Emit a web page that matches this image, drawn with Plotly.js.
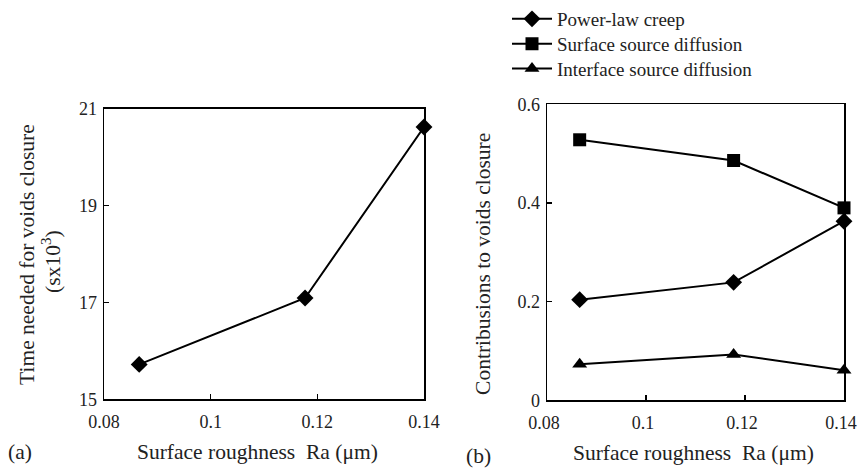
<!DOCTYPE html>
<html><head><meta charset="utf-8">
<script src="https://cdn.plot.ly/plotly-3.0.1.min.js"></script>
<style>html,body{margin:0;padding:0;background:#fff}#chart{width:858px;height:468px}</style>
</head><body><div id="chart"></div>
<script>
const roughness = [0.0866, 0.1177, 0.14];
const closureTime = [15.72, 17.09, 20.62];
const powerLawCreep = [0.204, 0.239, 0.363];
const surfaceSourceDiffusion = [0.528, 0.486, 0.390];
const interfaceSourceDiffusion = [0.073, 0.093, 0.061];
const seriesNames = ["Power-law creep", "Surface source diffusion", "Interface source diffusion"];
const xTicks = [0.08, 0.1, 0.12, 0.14];
const xTickText = ["0.08", "0.1", "0.12", "0.14"];
const yTicksA = [15, 17, 19, 21];
const yTicksB = [0, 0.2, 0.4, 0.6];
const yTickTextB = ["0", "0.2", "0.4", "0.6"];

const FONT = "Liberation Serif";
const W = 858, H = 468;
const line = {color: "#000", width: 2};

const traces = [
  {x: roughness, y: closureTime, xaxis: "x", yaxis: "y", mode: "lines+markers", showlegend: false,
   line: line, marker: {symbol: "diamond", size: 13, color: "#000"}, cliponaxis: false},
  {x: roughness, y: powerLawCreep, xaxis: "x2", yaxis: "y2", name: seriesNames[0], legend: "legend", mode: "lines+markers",
   line: line, marker: {symbol: "diamond", size: 13, color: "#000"}, cliponaxis: false},
  {x: roughness, y: surfaceSourceDiffusion, xaxis: "x2", yaxis: "y2", name: seriesNames[1], legend: "legend2", mode: "lines+markers",
   line: line, marker: {symbol: "square", size: 13, color: "#000"}, cliponaxis: false},
  {x: roughness, y: interfaceSourceDiffusion, xaxis: "x2", yaxis: "y2", name: seriesNames[2], legend: "legend3", mode: "lines+markers",
   line: line, marker: {symbol: "triangle-up", size: 13, color: "#000"}, cliponaxis: false}
];

const axBase = {showgrid: false, zeroline: false, showline: true, linecolor: "#000", linewidth: 1.5,
  mirror: true, ticks: "inside", ticklen: 5, tickwidth: 1.5, tickcolor: "#000",
  ticklabeloverflow: "allow",
  tickfont: {family: FONT, size: 18, color: "#222"}};
const xBase = Object.assign({}, axBase, {ticklabelstandoff: 6});
const yBase = Object.assign({}, axBase, {ticklabelstandoff: 2});

function mkLegend(yCenter) {
  return {x: 507/W, y: 1 - yCenter/H, xanchor: "left", yanchor: "middle", bgcolor: "rgba(0,0,0,0)",
    font: {family: FONT, size: 19, color: "#222"}, itemwidth: 40};
}

const layout = {
  width: W, height: H, margin: {l: 0, r: 0, t: 0, b: 0},
  paper_bgcolor: "#fff", plot_bgcolor: "#fff",
  font: {family: FONT, color: "#000"},
  xaxis: Object.assign({}, xBase, {domain: [104/W, 424/W], range: [0.08, 0.14], tickvals: xTicks, ticktext: xTickText, anchor: "y"}),
  yaxis: Object.assign({}, yBase, {domain: [1-399/H, 1-107/H], range: [15, 21], tickvals: yTicksA, anchor: "x"}),
  xaxis2: Object.assign({}, xBase, {domain: [547/W, 844/W], range: [0.08, 0.14], tickvals: xTicks, ticktext: xTickText, anchor: "y2", ticklabelshift: -3}),
  yaxis2: Object.assign({}, yBase, {domain: [1-400/H, 1-102.7/H], range: [0, 0.6], tickvals: yTicksB, ticktext: yTickTextB, anchor: "x2"}),
  legend: mkLegend(17),
  legend2: mkLegend(42),
  legend3: mkLegend(67),
  annotations: [
    {text: "Time needed for voids closure", textangle: -90, x: 27/W, y: 1-254/H},
    {text: "(sx10<sup>3</sup>)", textangle: -90, x: 52/W, y: 1-261/H},
    {text: "Contribusions to voids closure", textangle: -90, x: 483/W, y: 1-263/H},
    {text: "Surface roughness  Ra (\u03bcm)", x: 257/W, y: 1-452/H},
    {text: "Surface roughness  Ra (\u03bcm)", x: 693/W, y: 1-453/H},
    {text: "(a)", x: 20/W, y: 1-452/H},
    {text: "(b)", x: 478/W, y: 1-456/H}
  ].map(a => Object.assign({xref: "paper", yref: "paper", xanchor: "center", yanchor: "middle", showarrow: false,
    font: {family: FONT, size: 21.5, color: "#222"}}, a))
};
Plotly.newPlot("chart", traces, layout, {staticPlot: true, displayModeBar: false});
</script></body></html>
